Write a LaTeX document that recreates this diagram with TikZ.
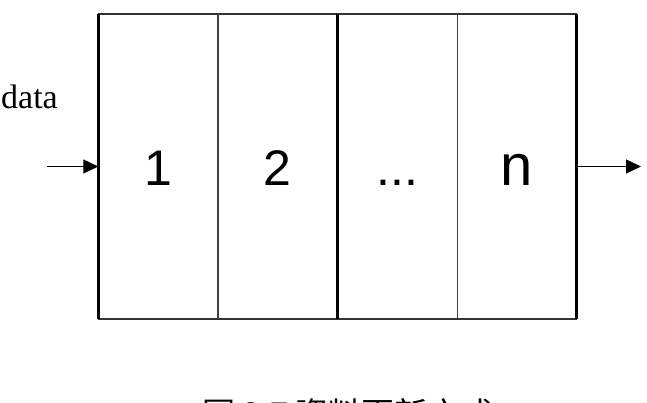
\documentclass[tikz,border=0pt]{standalone}
\usepackage{fontspec}
\setmainfont{Liberation Serif}
\newfontfamily\cellfont{Liberation Sans}
\newfontfamily\cjkfont{Noto Sans CJK TC}
\usetikzlibrary{positioning,arrows.meta}

\begin{document}
\begin{tikzpicture}[x=1pt, y=-1pt, node distance={0pt},
		cell/.style = {minimum width=119.25pt, minimum height=305pt, inner sep=0pt, text height=38pt, text depth=0pt, font=\cellfont\fontsize{50}{50}\selectfont},
		edge/.style = {line width=1.5pt, draw=black!80},
		wall/.style = {line width=2.8pt, draw=black},
		sep/.style = {line width=1.2pt, draw=black!75},
		flow/.style = {line width=1.2pt, -{Triangle[length=15pt, width=14pt]}}]
		\useasboundingbox (0,0) rectangle (647,403);
		\node[cell] (1) at (158.1,166.5) {1};
		\node[cell] (2) [right=of 1] {2};
		\node[cell] (3) [right=of 2] {...};
		\node[cell, font=\cellfont\fontsize{58}{58}\selectfont] (n) [right=of 3] {n};
		\coordinate (in) at (47,166.5);
		\coordinate (out) at (641,166.5);
		\node[font=\fontsize{34}{34}\selectfont, inner sep=0pt, anchor=base west] (data) at (1,109) {data};
		\node[font=\cjkfont\fontsize{33}{33}\selectfont, anchor=base] (caption) at (348,426) {圖 3.7 資料更新方式};
		
		\draw[edge] (1.north west) -- (n.north east);
		\draw[edge] (1.south west) -- (n.south east);
		\draw[sep] (1.north east) -- (1.south east);
		\draw[sep] (3.north east) -- (3.south east);
		\draw[wall] (1.north west) -- (1.south west);
		\draw[wall] (2.north east) -- (2.south east);
		\draw[wall] (n.north east) -- (n.south east);
		\draw[flow] (in) -- (1.west);
		\draw[flow] (n.east) -- (out);
	\end{tikzpicture}
\end{document}
